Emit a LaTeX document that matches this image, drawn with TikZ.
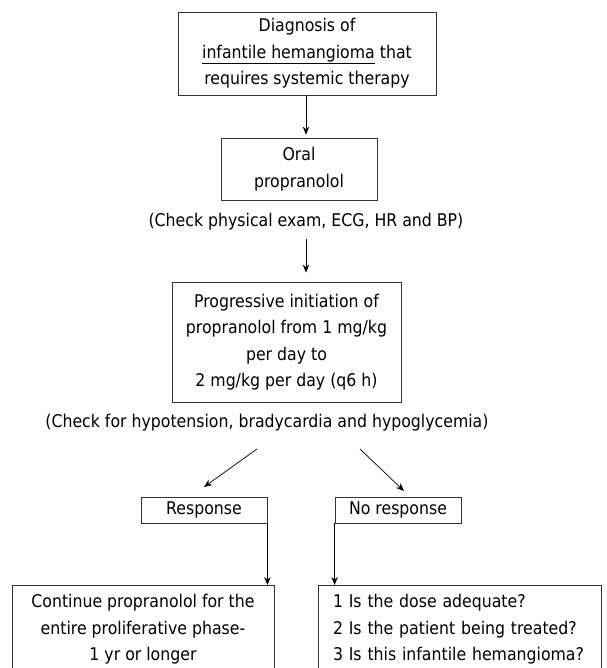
\documentclass[tikz,border=0pt]{standalone}
\usepackage{fontspec}
\setmainfont{DejaVu Sans Condensed}
\usetikzlibrary{arrows.meta}

\tikzset{
  box/.style={draw=black!80, line width=0.8pt, align=center, inner sep=0pt},
  note/.style={align=center, inner sep=0pt},
  arr/.style={-{Stealth[length=8pt,width=6.5pt]}, line width=0.7pt},
}

\begin{document}
\begin{tikzpicture}[x=1pt, y=-1pt, font=\fontsize{17.5}{26.5}\selectfont]
		%%%%% START %%%%%
		\useasboundingbox (0,0) rectangle (606,668);
		\clip (0,0) rectangle (606,668);
		
		\node[box, minimum width=258pt, minimum height=83pt] (diag) at (307,53.5)
			{Diagnosis of\\\underline{infantile hemangioma} that\\requires systemic therapy};
		\node[box, minimum width=156pt, minimum height=62pt] (oral) at (299,169)
			{Oral\\propranolol};
		\node[note] (chk1) at (306,222) {(Check physical exam, ECG, HR and BP)};
		
		\node[box, minimum width=229pt, minimum height=120pt] (prog) at (286.5,342)
			{Progressive initiation of\\propranolol from 1 mg/kg\\per day to\\2 mg/kg per day (q6 h)};
		\node[note] (chk2) at (267,423) {(Check for hypotension, bradycardia and hypoglycemia)};
		
		\coordinate (ls) at (257,449);
		\coordinate (le) at (204,487);
		\coordinate (rs) at (360,449);
		\coordinate (re) at (404,491);
		
		\node[box, minimum width=126pt, minimum height=26pt] (resp) at (204,510) {Response};
		\node[box, minimum width=126pt, minimum height=26pt] (noresp) at (398,510) {No response};
		
		\node[box, minimum width=262pt, minimum height=88pt, anchor=north] (cont) at (143,585)
			{Continue propranolol for the\\entire proliferative phase-\\1 yr or longer};
		\node[box, minimum width=283pt, minimum height=88pt, anchor=north, align=left, text width=253pt] (quest) at (459.5,585)
			{1 Is the dose adequate?\\2 Is the patient being treated?\\3 Is this infantile hemangioma?};
		
		\draw[arr, shorten >=3pt] (chk1 |- diag.south) -- (chk1 |- oral.north);
		\draw[arr, shorten <=8pt, shorten >=9pt] (chk1.south) -- (chk1 |- prog.north);
		\draw[arr] (ls) -- (le);
		\draw[arr] (rs) -- (re);
		\draw[arr] (resp.south east) -- (resp.south east |- cont.north);
		\draw[arr] (noresp.south west) -- (noresp.south west |- quest.north);
		
		%%%%% END %%%%%
	\end{tikzpicture}
\end{document}
